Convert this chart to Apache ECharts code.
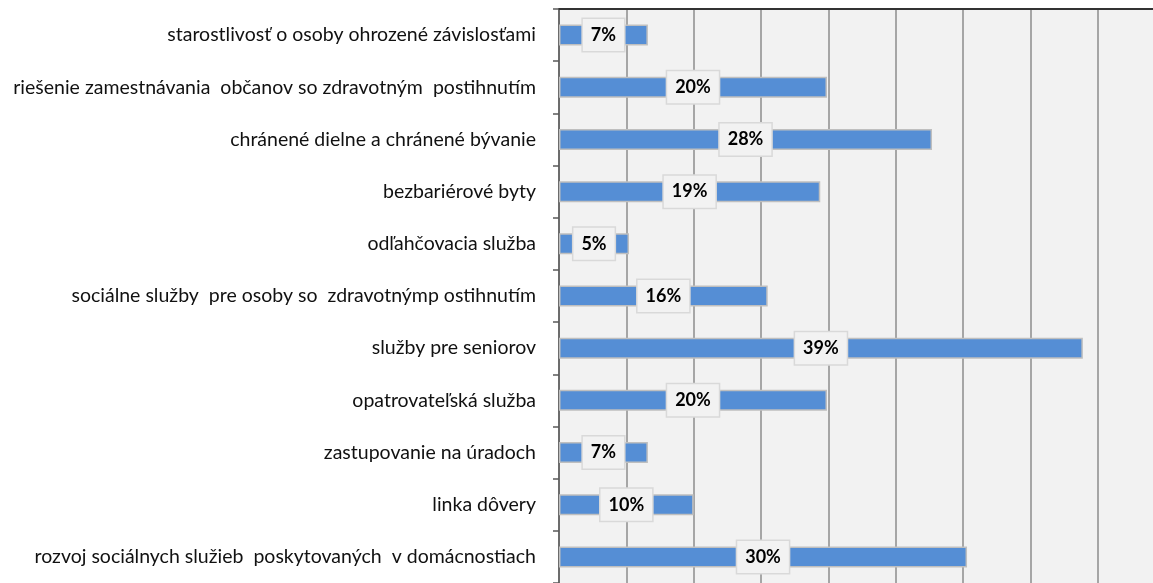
<!DOCTYPE html>
<html>
<head>
<meta charset="utf-8">
<script src="https://cdn.jsdelivr.net/npm/echarts@6/dist/echarts.min.js"></script>
<style>
  html, body { margin: 0; padding: 0; background: #fff; overflow: hidden; }
  #chart { width: 1165px; height: 583px; }
</style>
</head>
<body>
<div id="chart"></div>
<script>
const categories = [
    'starostlivosť o osoby ohrozené závislosťami',
    'riešenie zamestnávania  občanov so zdravotným  postihnutím',
    'chránené dielne a chránené bývanie',
    'bezbariérové byty',
    'odľahčovacia služba',
    'sociálne služby  pre osoby so  zdravotnýmp ostihnutím',
    'služby pre seniorov',
    'opatrovateľská služba',
    'zastupovanie na úradoch',
    'linka dôvery',
    'rozvoj sociálnych služieb  poskytovaných  v domácnostiach'
]
const values = [6.6, 19.9, 27.7, 19.4, 5.2, 15.5, 38.9, 19.9, 6.6, 10.0, 30.3]

// chart is slightly wider than the window: the 45% edge sits just off-screen
const myChart = echarts.init(document.getElementById('chart'))

const option = {
    animation: false,
    grid: {
        left: 559,
        right: 0,
        top: 9,
        bottom: -4,
        show: true,
        backgroundColor: '#f2f2f2',
        borderWidth: 0
    },
    xAxis: {
        type: 'value',
        position: 'top',
        min: 0,
        max: 45,
        interval: 5,
        axisLine: { show: true, lineStyle: { color: '#333', width: 2 } },
        axisTick: { show: false },
        axisLabel: { show: false },
        splitLine: { show: true, lineStyle: { color: '#8c8c8c', width: 1.5 } }
    },
    yAxis: {
        type: 'category',
        inverse: true,
        data: categories,
        axisLine: { show: true, lineStyle: { color: '#595959', width: 1.5 } },
        axisTick: { show: true, length: 6, lineStyle: { color: '#595959', width: 1.5 } },
        axisLabel: {
            margin: 23,
            fontFamily: 'Lato',
            fontSize: 19.5,
            color: '#111'
        }
    },
    series: [
        {
            type: 'bar',
            data: values,
            barWidth: 21,
            itemStyle: {
                color: '#558ed5',
                borderColor: '#bfbfbf',
                borderWidth: 1.5
            },
            label: {
                show: true,
                position: 'inside',
                formatter: p => Math.round(p.value) + '%',
                fontFamily: 'Lato',
                fontWeight: 'bold',
                fontSize: 18,
                color: '#000',
                backgroundColor: '#f2f2f2',
                borderColor: '#d9d9d9',
                borderWidth: 1.5,
                padding: [7, 8]
            }
        }
    ]
}

myChart.setOption(option)
window.addEventListener('resize', () => myChart.resize())
</script>
</body>
</html>
